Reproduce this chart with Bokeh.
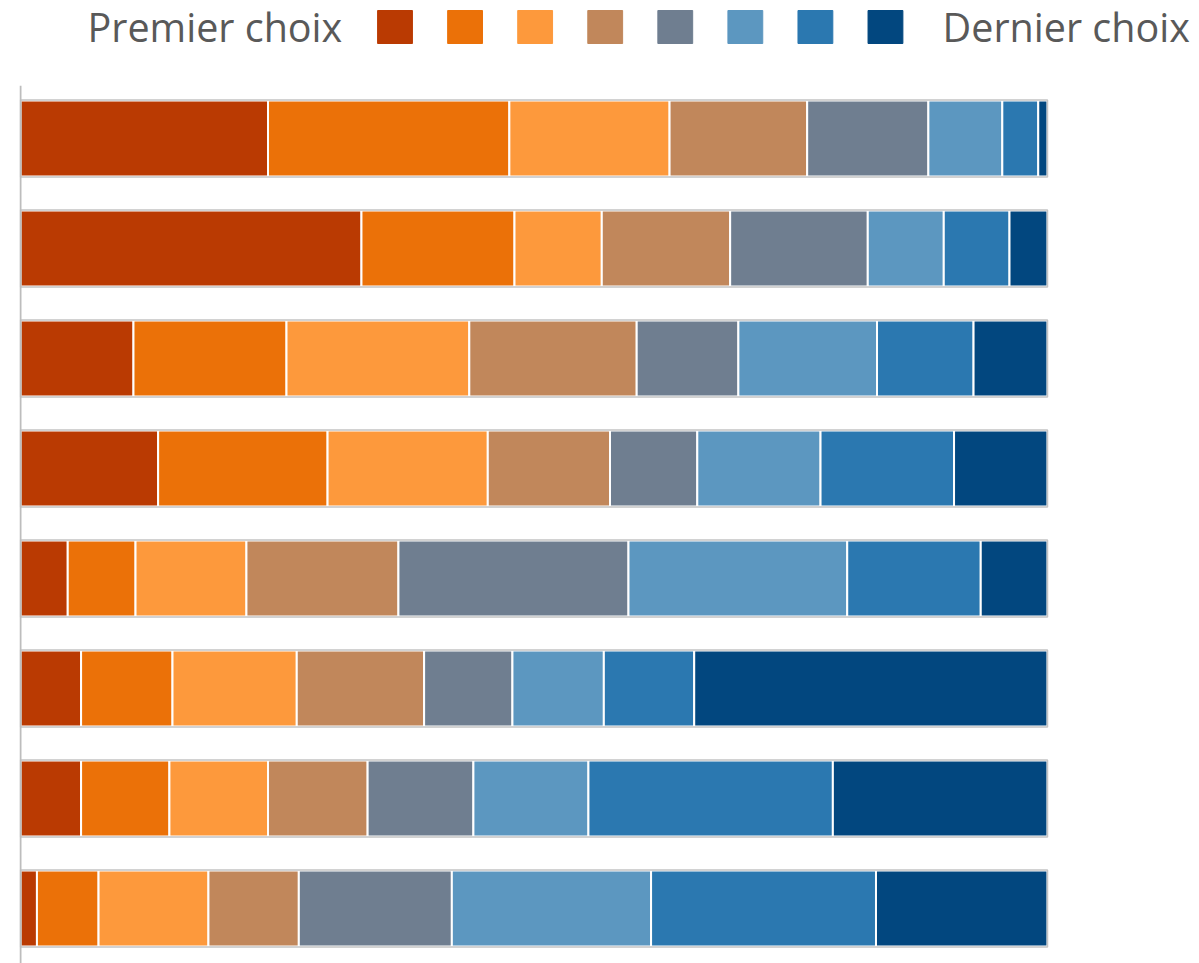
from bokeh.plotting import figure
from bokeh.models import ColumnDataSource, Range1d, Span
from bokeh.layouts import column
from bokeh.core.properties import value
from bokeh.embed import file_html
from bokeh.resources import INLINE

# ---- data (percent of respondents by rank, one list per bar, top to bottom) ----
ranks = ["r1", "r2", "r3", "r4", "r5", "r6", "r7", "r8"]
colors = ["#BA3A02", "#EB7108", "#FD993C", "#C1875B", "#6F7E90", "#5C97C0", "#2B78B0", "#02477F"]
legend_left = "Premier choix"
legend_right = "Dernier choix"

bar1 = [24.1, 23.5, 15.6, 13.4, 11.8, 7.2, 3.5, 0.9]
bar2 = [33.2, 14.9, 8.5, 12.5, 13.4, 7.4, 6.4, 3.7]
bar3 = [11.0, 14.9, 17.8, 16.3, 9.9, 13.5, 9.4, 7.2]
bar4 = [13.4, 16.5, 15.6, 11.9, 8.5, 12.0, 13.0, 9.1]
bar5 = [4.6, 6.6, 10.8, 14.8, 22.4, 21.3, 13.0, 6.5]
bar6 = [5.9, 8.9, 12.1, 12.4, 8.6, 8.9, 8.8, 34.4]
bar7 = [5.9, 8.6, 9.6, 9.7, 10.3, 11.2, 23.8, 20.9]
bar8 = [1.6, 6.0, 10.7, 8.8, 14.9, 19.4, 21.9, 16.7]
bars = [bar1, bar2, bar3, bar4, bar5, bar6, bar7, bar8]

# ---- source ----
data = {"y": [-i for i in range(len(bars))]}
for k, r in enumerate(ranks):
    data[r] = [b[k] for b in bars]
data["total"] = [sum(b) for b in bars]
source = ColumnDataSource(data)

W = 1191
LEG_H = 85
MAIN_H = 878
px_per_unit = 10.27
left_border = 19
x_start = -1.0 / px_per_unit
x_end = x_start + (W - left_border) / px_per_unit

# ---- main chart ----
p = figure(width=W, height=MAIN_H, output_backend="svg", toolbar_location=None,
           x_range=Range1d(x_start, x_end), y_range=Range1d(-7.5, 0.4818),
           min_border_left=left_border, min_border_right=0, min_border_top=0,
           min_border_bottom=0)
p.xaxis.visible = False
p.yaxis.visible = False
p.grid.visible = False
p.outline_line_color = None
p.background_fill_color = "white"

p.add_layout(Span(location=0, dimension="height", line_color="#bdbdbd", line_width=2))

H = 0.69
p.hbar_stack(ranks, y="y", height=H, color=colors, source=source,
             line_color="white", line_width=2)
p.hbar(y="y", left=0, right="total", height=H + 0.01, source=source,
       fill_color=None, line_color="#c4c4c4", line_width=1.5)

# ---- legend strip ----
lg = figure(width=W, height=LEG_H, output_backend="svg", toolbar_location=None,
            x_range=Range1d(0, W), y_range=Range1d(LEG_H, 0),
            min_border=0)
lg.xaxis.visible = False
lg.yaxis.visible = False
lg.grid.visible = False
lg.outline_line_color = None

sq_x0 = 381.6
sq_step = 71.2
leg_src = ColumnDataSource(dict(x=[sq_x0 + i * sq_step for i in range(len(colors))],
                                y=[26.5] * len(colors), c=colors))
lg.rect(x="x", y="y", width=35.4, height=33, fill_color="c", line_color="c", source=leg_src)
lg.text(x=[328], y=[26], text=[legend_left], text_align="right", text_baseline="alphabetic",
        text_font=value("Open Sans"), text_font_size="39.5px", text_color="#595959")
lg.text(x=[938], y=[26], text=[legend_right], text_align="left", text_baseline="alphabetic",
        text_font=value("Open Sans"), text_font_size="39.5px", text_color="#595959")

layout = column(lg, p, spacing=0)
open("out.html", "w").write(file_html(layout, INLINE))
